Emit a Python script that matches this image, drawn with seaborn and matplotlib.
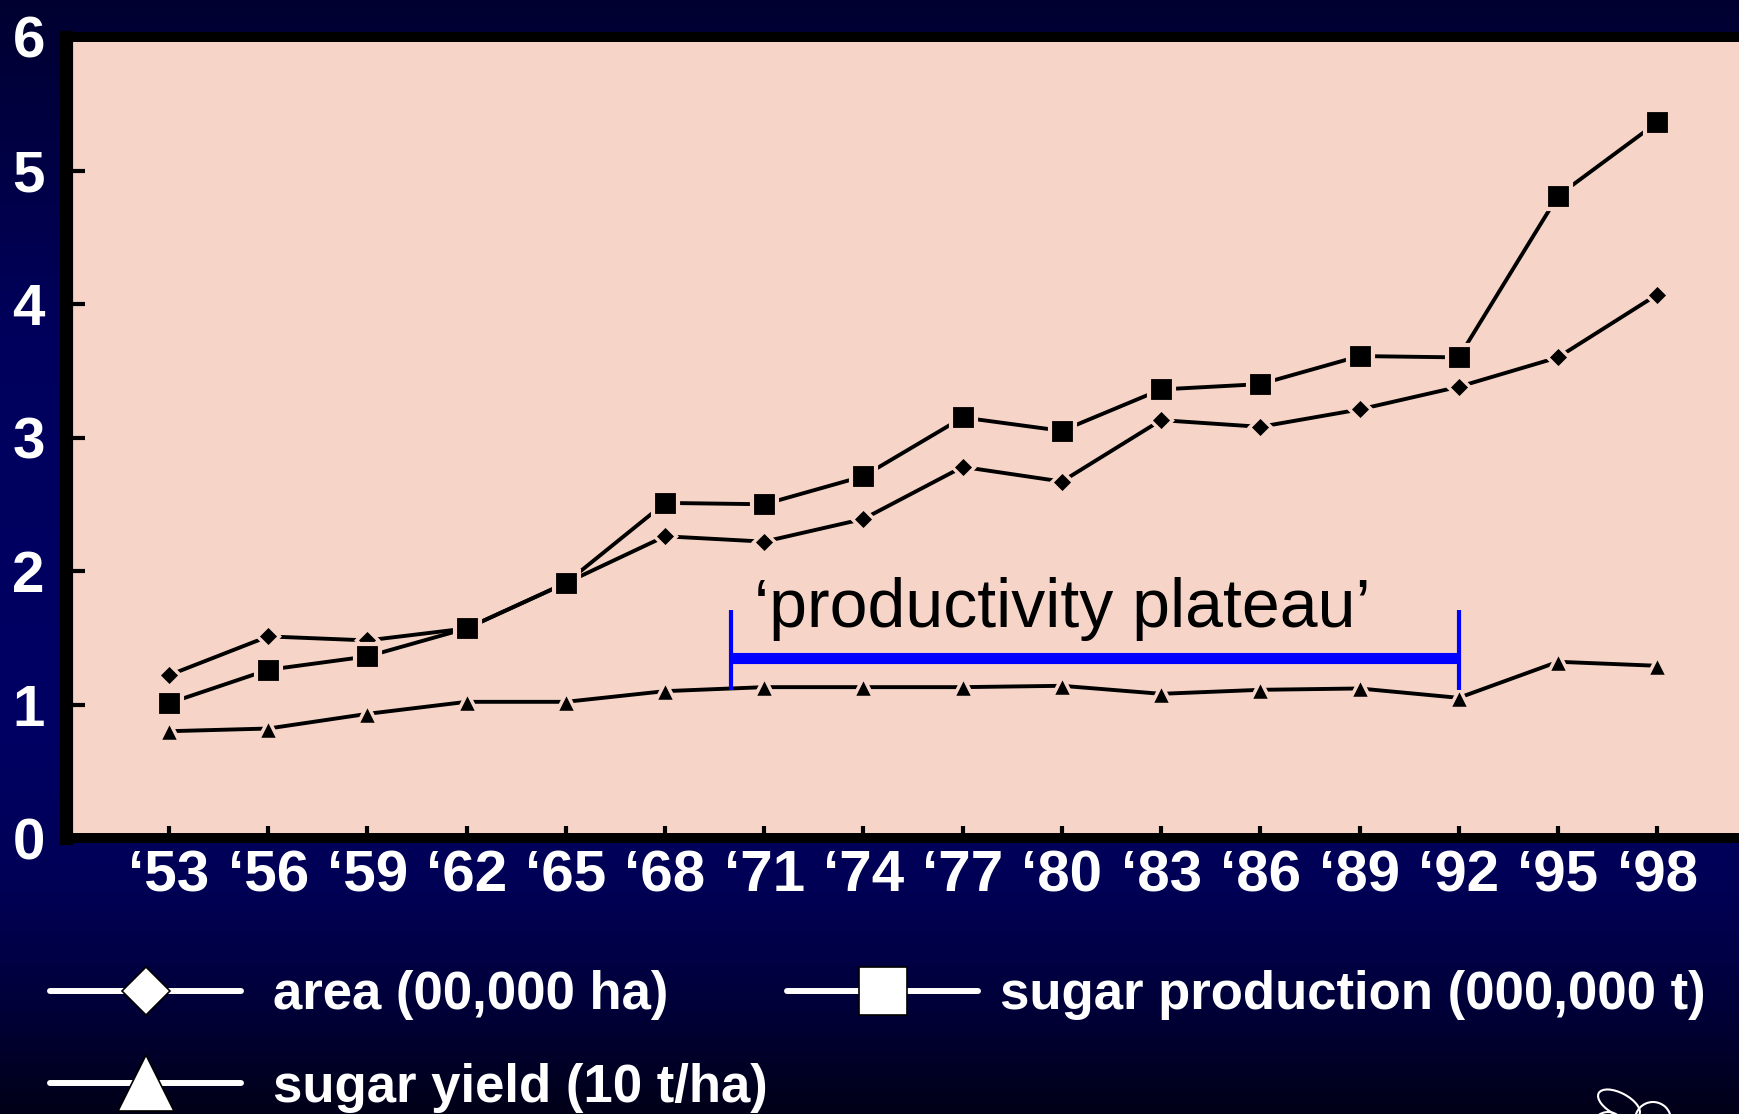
"""
Sugar: area, production and yield 1953-1998 ('productivity plateau')
"""
import numpy as np
import matplotlib
matplotlib.use("Agg")
import matplotlib.pyplot as plt
from matplotlib.lines import Line2D
from matplotlib.patches import Ellipse, Circle
from matplotlib.colors import LinearSegmentedColormap
import seaborn as sns

# ---- data ----
years = [1953, 1956, 1959, 1962, 1965, 1968, 1971, 1974,
         1977, 1980, 1983, 1986, 1989, 1992, 1995, 1998]
year_labels = ["\u2018" + str(y)[2:] for y in years]
area = [1.22, 1.51, 1.48, 1.57, 1.91, 2.26, 2.22, 2.39,
        2.78, 2.67, 3.13, 3.08, 3.21, 3.38, 3.60, 4.07]
production = [1.01, 1.26, 1.36, 1.57, 1.91, 2.51, 2.50, 2.71,
              3.15, 3.05, 3.36, 3.40, 3.61, 3.60, 4.81, 5.36]
sugar_yield = [0.80, 0.82, 0.93, 1.02, 1.02, 1.10, 1.13, 1.13,
               1.13, 1.14, 1.08, 1.11, 1.12, 1.05, 1.32, 1.29]
y_ticks = [0, 1, 2, 3, 4, 5, 6]
plateau_span = (1970, 1992)
plateau_label = "\u2018productivity plateau\u2019"
legend_labels = ["area (00,000 ha)", "sugar yield (10 t/ha)",
                 "sugar production (000,000 t)"]

# ---- style ----
sns.set_style("ticks")
plt.rcParams["font.family"] = ["Liberation Sans", "DejaVu Sans"]

W, H = 1740, 1114
FACE = "#F6D5C8"
fig = plt.figure(figsize=(W / 100, H / 100), dpi=100)

# navy gradient background
bg = fig.add_axes([0, 0, 1, 1], zorder=-10)
grad = LinearSegmentedColormap.from_list(
    "navy", [(0.0, "#000030"), (0.3, "#00005C"), (0.65, "#000064"),
             (0.8, "#000055"), (0.9, "#00003A"), (1.0, "#000018")])
bg.imshow(np.linspace(0, 1, 256).reshape(-1, 1), aspect="auto", cmap=grad,
          extent=(0, W, H, 0))
bg.set_xlim(0, W)
bg.set_ylim(H, 0)
bg.axis("off")
# little logo in the corner
bg.add_patch(Ellipse((1619, 1104), 46, 22, angle=28, fill=False, ec="white", lw=1.5))
bg.add_patch(Circle((1653, 1120), 18, fill=False, ec="white", lw=1.5))
bg.add_patch(Circle((1608, 1128), 16, fill=False, ec="white", lw=1.5))

# main axes (runs off the right edge like the original)
ax = fig.add_axes([66.5 / W, (H - 838) / H, (1800 - 66.5) / W, (838 - 37) / H])
ax.set_facecolor(FACE)

sns.lineplot(x=years, y=sugar_yield, ax=ax, color="black", lw=2.8,
             marker="^", ms=14, mec=FACE, mew=2.5, errorbar=None)
sns.lineplot(x=years, y=area, ax=ax, color="black", lw=2.8,
             marker="D", ms=11, mec=FACE, mew=2.5, errorbar=None)
sns.lineplot(x=years, y=production, ax=ax, color="black", lw=2.8,
             marker="s", ms=18, mec=FACE, mew=3, errorbar=None)

# plateau bracket
ax.plot(plateau_span, [1.35, 1.35], color="#0000FF", lw=8, solid_capstyle="butt")
ax.vlines(plateau_span, 1.11, 1.71, color="#0000FF", lw=3)
ax.text(1980.0, 1.58, plateau_label, ha="center",
        va="baseline", fontsize=49, color="black")

ax.set_xlim(1949.9, 2002.32)
ax.set_ylim(0, 6)
ax.set_xticks(years, year_labels, fontweight="bold")
ax.set_yticks(y_ticks, [str(v) for v in y_ticks], fontweight="bold")
ax.tick_params(axis="x", direction="in", length=9, width=3, color="black",
               labelcolor="white", labelsize=42, pad=8)
ax.tick_params(axis="y", direction="in", length=14, width=3, color="black",
               labelcolor="white", labelsize=42, pad=15.5)
ax.set_xlabel("")
ax.set_ylabel("")
ax.spines["right"].set_visible(False)
ax.spines["left"].set_linewidth(9.5)
for side in ["top", "bottom"]:
    ax.spines[side].set_linewidth(7.2)
    ax.spines[side].set_color("black")
ax.spines["left"].set_color("black")

# legend below the plot, in white
def handle(marker, ms):
    return Line2D([], [], color="white", lw=4.3, marker=marker, ms=ms,
                  mfc="white", mec="black", mew=1.2)

leg_kw = dict(loc="upper left", frameon=False, borderpad=0, borderaxespad=0,
              handlelength=3.62, labelspacing=0.81,
              prop={"size": 38, "weight": "bold"}, labelcolor="white")
fig.legend(handles=[handle("D", 24), handle("^", 40)], labels=legend_labels[:2],
           bbox_to_anchor=(50 / W, 1 - 970 / H), handletextpad=0.61, **leg_kw)
fig.legend(handles=[handle("s", 34.5)], labels=legend_labels[2:],
           bbox_to_anchor=(787 / W, 1 - 970 / H), handletextpad=0.42, **leg_kw)

fig.savefig("out.png", dpi=100, facecolor="#000040")
